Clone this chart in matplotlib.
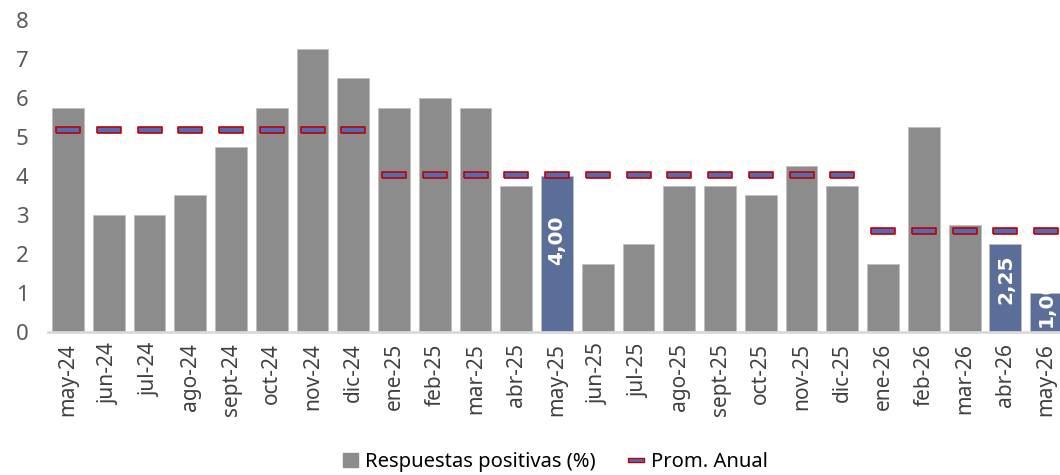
import matplotlib
matplotlib.use('Agg')
import matplotlib.pyplot as plt
import numpy as np
from matplotlib.lines import Line2D
from matplotlib.patches import Patch

plt.rcParams['font.family'] = ['Noto Sans', 'DejaVu Sans']

# data
months = ['may-24', 'jun-24', 'jul-24', 'ago-24', 'sept-24', 'oct-24', 'nov-24', 'dic-24',
          'ene-25', 'feb-25', 'mar-25', 'abr-25', 'may-25', 'jun-25', 'jul-25', 'ago-25',
          'sept-25', 'oct-25', 'nov-25', 'dic-25', 'ene-26', 'feb-26', 'mar-26', 'abr-26', 'may-26']
positive = [5.75, 3.0, 3.0, 3.5, 4.75, 5.75, 7.25, 6.5,
            5.75, 6.0, 5.75, 3.75, 4.0, 1.75, 2.25, 3.75,
            3.75, 3.5, 4.25, 3.75, 1.75, 5.25, 2.75, 2.25, 1.0]
annual_avg = [5.17] * 8 + [4.03] * 12 + [2.6] * 5
highlight = ['may-25', 'abr-26', 'may-26']

gray = '#8C8C8C'
blue = '#5B6E9A'

fig = plt.figure(figsize=(10.6, 4.75), dpi=100)
ax = fig.add_axes([0.0453, 0.301, 0.9547, 0.657])

x = np.arange(len(months))
colors = [blue if m in highlight else gray for m in months]
bars = ax.bar(x, positive, width=0.78, color=colors, edgecolor='#BFBFBF', linewidth=0.6, zorder=2)

dash = [(-1, -0.22), (1, -0.22), (1, 0.22), (-1, 0.22), (-1, -0.22)]
ax.plot(x, annual_avg, linestyle='none', marker=dash, markersize=17,
        markerfacecolor='#4F6DB5', markeredgecolor='#C00000', markeredgewidth=1.2, zorder=3)

# labels on highlighted bars (offset from bar top, in px), clipped to the bar
offsets = {'may-25': 40, 'abr-26': 10, 'may-26': -16}
for i, m in enumerate(months):
    if m in highlight:
        lbl = f'{positive[i]:.2f}'.replace('.', ',')
        t = ax.annotate(lbl, (x[i], positive[i]), xytext=(0, -offsets[m] * 0.72),
                        textcoords='offset points', rotation=90, ha='center', va='top',
                        color='white', fontsize=14.5, fontweight='bold',
                        family='DejaVu Sans', zorder=4)
        t.set_clip_path(bars[i])

ax.set_xlim(-0.49, 24.34)
ax.set_ylim(0, 8)
ax.set_yticks(range(0, 9))
ax.set_xticks(x)
ax.set_xticklabels(months, rotation=90, fontsize=15, color='#404040')
ax.tick_params(axis='y', length=0, labelsize=16, labelcolor='#595959', pad=14)
ax.tick_params(axis='x', length=0, pad=8)
for s in ['top', 'right', 'left']:
    ax.spines[s].set_visible(False)
ax.spines['bottom'].set_color('#D9D9D9')
ax.spines['bottom'].set_linewidth(2)

handles = [Patch(facecolor=gray, edgecolor=gray),
           Line2D([], [], linestyle='none', marker=dash, markersize=12,
                  markerfacecolor='#4F6DB5', markeredgecolor='#C00000')]
fig.legend(handles, ['Respuestas positivas (%)', 'Prom. Anual'], loc='center',
           bbox_to_anchor=(0.524, 0.027), ncol=2, frameon=False, fontsize=14.5,
           handlelength=0.7, handleheight=0.7, handletextpad=0.35, columnspacing=1.7)

fig.savefig('out.png', dpi=100)
